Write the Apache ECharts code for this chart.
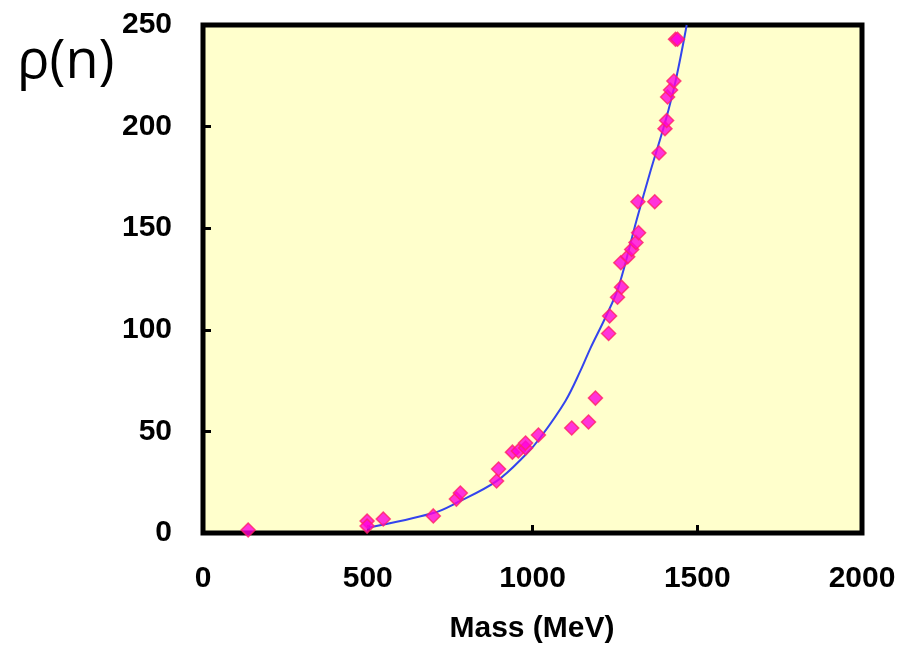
<!DOCTYPE html>
<html>
<head>
<meta charset="utf-8">
<script src="https://cdn.jsdelivr.net/npm/echarts@6/dist/echarts.min.js"></script>
<style>html,body{margin:0;padding:0;background:#fff;}#c{width:917px;height:649px;}</style>
</head>
<body>
<div id="c"></div>
<script>
// Tick values
const xTicks = [0, 500, 1000, 1500, 2000];
const yTicks = [0, 50, 100, 150, 200, 250];
// Scatter data: mass (MeV), rho(n)
const massPts = [137, 498, 498, 547, 699, 769, 781, 891, 897, 939, 957, 979, 979, 1018, 1119, 1170, 1191, 1231, 1234, 1258, 1270, 1268, 1289, 1301, 1314, 1322, 1320, 1371, 1384, 1402, 1407, 1410, 1419, 1429, 1434, 1440];
const rhoPts  = [1.5, 5.9, 3.4, 6.9, 8.4, 16.7, 19.7, 25.6, 31.5, 39.8, 40.4, 41.8, 44.3, 48.2, 51.7, 54.6, 66.4, 98.2, 106.8, 116, 121, 133, 136, 139.5, 143, 147.8, 163, 163, 187, 199, 203, 214.6, 218, 222.4, 243, 243];
// Fit curve
const fitMass = [498, 699, 769, 891, 979, 1024, 1100, 1146, 1176, 1222, 1261, 1316, 1359, 1404, 1435, 1468];
const fitRho  = [2.5, 9.8, 14.8, 25.5, 38.5, 47, 65, 80, 91, 106.3, 121, 154, 178.6, 203, 223, 250];

const scatterData = massPts.map((m, i) => [m, rhoPts[i]]);
const lineData = fitMass.map((m, i) => [m, fitRho[i]]);

const chart = echarts.init(document.getElementById('c'), null, {renderer: 'canvas'});
const labelStyle = {fontFamily: 'Liberation Sans', fontWeight: 'bold', fontSize: 30, color: '#000', formatter: v => String(v)};
chart.setOption({
  animation: false,
  grid: {left: 203, right: 55, top: 25, bottom: 116, show: true, backgroundColor: '#FFFFCC', borderColor: '#000', borderWidth: 5},
  xAxis: {
    type: 'value', min: xTicks[0], max: xTicks[xTicks.length - 1], interval: 500,
    axisLine: {show: false},
    axisTick: {show: true, inside: true, length: 8, lineStyle: {color: '#000', width: 3}},
    splitLine: {show: false},
    axisLabel: Object.assign({margin: 31}, labelStyle)
  },
  yAxis: {
    type: 'value', min: yTicks[0], max: yTicks[yTicks.length - 1], interval: 50,
    axisLine: {show: false},
    axisTick: {show: true, inside: true, length: 8, lineStyle: {color: '#000', width: 3}},
    splitLine: {show: false},
    axisLabel: Object.assign({margin: 31}, labelStyle)
  },
  graphic: [
    {type: 'text', x: 17, y: 36, style: {text: 'ρ(n)', fontFamily: 'Open Sans', fontSize: 54, fill: '#000'}},
    {type: 'text', x: 532, y: 614, style: {text: 'Mass (MeV)', fontFamily: 'Liberation Sans', fontWeight: 'bold', fontSize: 30, fill: '#000', textAlign: 'center'}}
  ],
  series: [
    {type: 'line', data: lineData, showSymbol: false, symbol: 'none', smooth: 0.35, lineStyle: {color: '#3344EE', width: 2}, clip: true, z: 2},
    {type: 'scatter', data: scatterData, symbol: 'diamond', symbolSize: 14, itemStyle: {color: '#FF00DD', borderColor: '#FF2266', borderWidth: 1.5}, z: 3}
  ]
});
</script>
</body>
</html>
